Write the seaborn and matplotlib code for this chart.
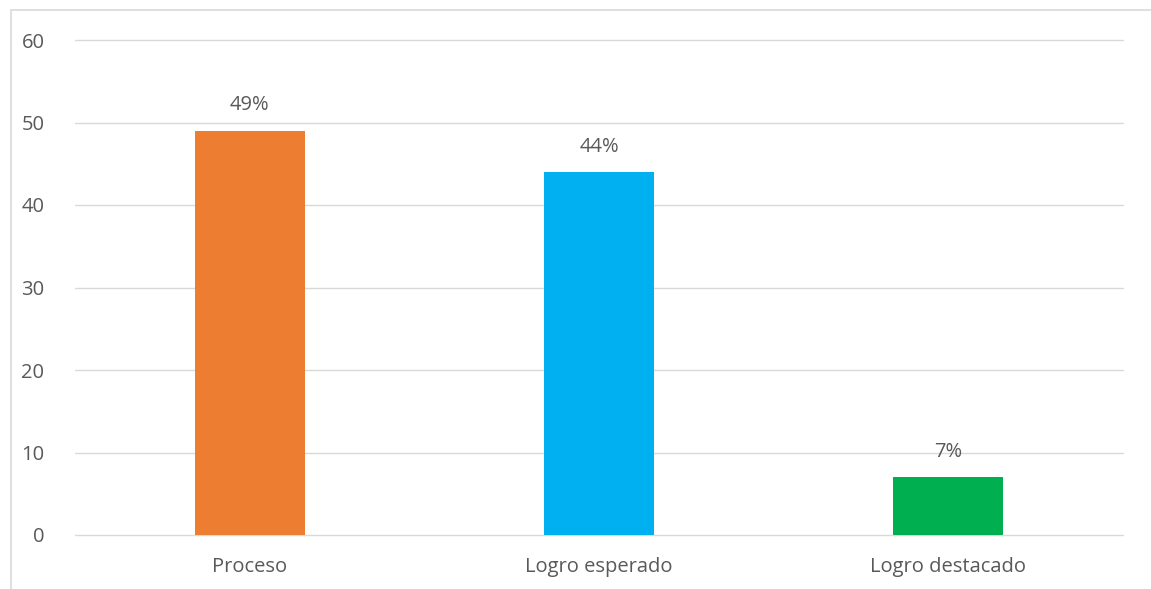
import matplotlib
matplotlib.use("Agg")
import matplotlib.pyplot as plt
import seaborn as sns
import pandas as pd
from matplotlib.patches import Rectangle

categories = ["Proceso", "Logro esperado", "Logro destacado"]
values = [49, 44, 7]
labels = ["49%", "44%", "7%"]
colors = ["#ED7D31", "#00B0F0", "#00B050"]
yticks = [0, 10, 20, 30, 40, 50, 60]

sns.set_theme(style="white")
plt.rcParams['font.family'] = ['Open Sans', 'DejaVu Sans']

W, H = 1151, 589
fig = plt.figure(figsize=(W / 100, H / 100), dpi=100)
ax = fig.add_axes([75 / W, 54 / H, (1123 - 75) / W, (535 - 40) / H])

df = pd.DataFrame({"cat": categories, "val": values})
sns.barplot(data=df, x="cat", y="val", hue="cat", palette=colors,
            width=0.315, legend=False, ax=ax, saturation=1, zorder=3,
            linewidth=0, edgecolor="none")

ax.set_ylim(0, 60)
ax.set_yticks(yticks)
ax.set_xlim(-0.5, 2.5)
ax.set_xlabel("")
ax.set_ylabel("")
for s in ax.spines.values():
    s.set_visible(False)
ax.grid(axis="y", color="#d9d9d9", linewidth=1.0, zorder=0)
for gl in ax.get_ygridlines():
    gl.set_clip_on(False)
ax.set_axisbelow(True)
ax.tick_params(axis="both", length=0, labelsize=14.5, colors="#595959")
ax.tick_params(axis="x", pad=16)
ax.tick_params(axis="y", pad=22)

for i, (v, lab) in enumerate(zip(values, labels)):
    ax.annotate(lab, (i, v), xytext=(0, 11), textcoords="offset points",
                ha="center", va="bottom", fontsize=14.5, color="#595959")

fig.patches.append(Rectangle((11 / W, -0.1), 1.2, 579 / H + 0.1,
                             transform=fig.transFigure, fill=False,
                             edgecolor="#d9d9d9", linewidth=1.2, zorder=0))

fig.savefig("out.png", dpi=100, facecolor="white")
